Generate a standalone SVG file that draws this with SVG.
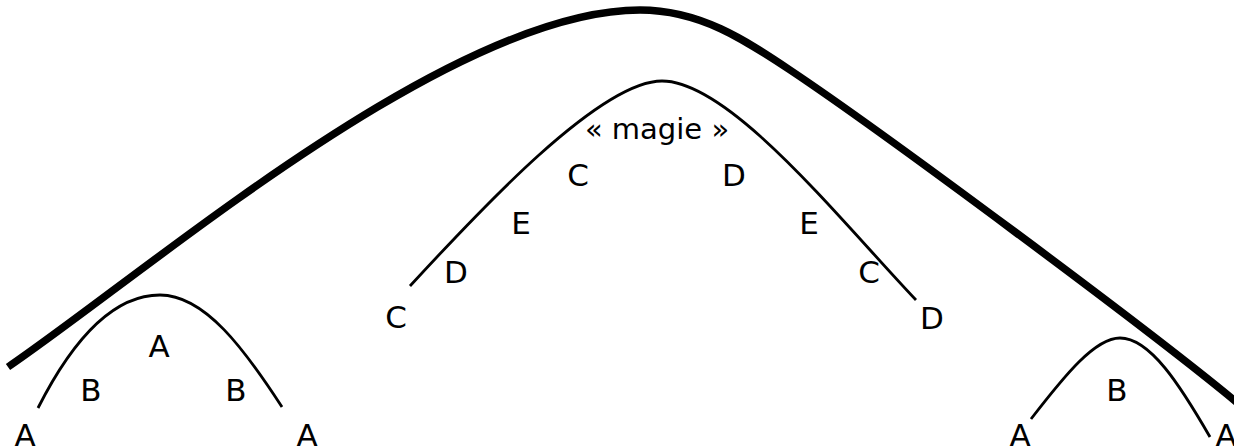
<svg xmlns="http://www.w3.org/2000/svg" width="1234" height="447" viewBox="0 0 1234 447">
<style>
.thick{fill:none;stroke:#000;stroke-width:7.5;stroke-linecap:butt}
.thin{fill:none;stroke:#000;stroke-width:2.8;stroke-linecap:butt}
text{font-family:"DejaVu Sans","Liberation Sans",sans-serif;font-size:31px;fill:#000;text-anchor:middle}
.magie{font-size:29px}
</style>
<rect width="1234" height="447" fill="#fff"/>
<g id="curves">
<path id="big-arch" class="thick" d="M 8 367 C 150 270, 450 10, 640 10 C 700 10, 745 40, 790 70 C 880 130, 1150 330, 1240 405"/>
<path id="middle-arch" class="thin" d="M 410 286 C 480 210, 600 81, 662 81 C 730 81, 840 220, 916 300"/>
<path id="left-arch" class="thin" d="M 38 408 C 75 335, 115 295, 160 295 C 205 295, 245 350, 282 407"/>
<path id="right-arch" class="thin" d="M 1031 419 C 1065 375, 1095 338, 1120 338 C 1150 338, 1180 385, 1210 437"/>
</g>
<g id="middle-labels">
<text class="magie" x="657" y="139">« magie »</text>
<text x="578" y="186">C</text>
<text x="734" y="186">D</text>
<text x="521" y="234">E</text>
<text x="809" y="234">E</text>
<text x="456" y="283">D</text>
<text x="869" y="283">C</text>
<text x="396" y="328">C</text>
<text x="932" y="329">D</text>
</g>
<g id="left-labels">
<text x="159" y="357">A</text>
<text x="91" y="401">B</text>
<text x="236" y="401">B</text>
<text x="25" y="446">A</text>
<text x="307" y="446">A</text>
</g>
<g id="right-labels">
<text x="1117" y="401">B</text>
<text x="1020" y="446">A</text>
<text x="1226" y="446">A</text>
</g>
</svg>
